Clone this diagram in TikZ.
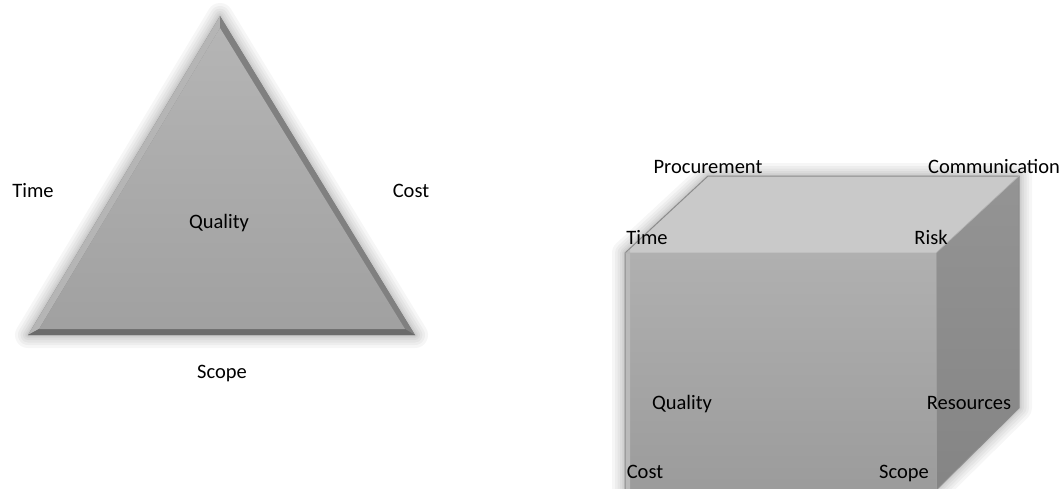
\documentclass[tikz,border=0pt]{standalone}
\usepackage{fontspec}
\setmainfont{Carlito}
\begin{document}
\begin{tikzpicture}[x=1pt,y=-1pt,
  lbl/.style={anchor=base,inner sep=0pt,font=\fontsize{20.5}{24}\selectfont,text=black},
  glow/.style={draw=black,line join=round,opacity=0.035}]
\useasboundingbox (0,0) rectangle (1062,488);
\fill[white] (0,0) rectangle (1062,488);
% ---------- triangle ----------
\coordinate (TA) at (220,16);
\coordinate (TB) at (28,335);
\coordinate (TC) at (415,335);
\coordinate (iA) at (220,28);
\coordinate (iB) at (39,329);
\coordinate (iC) at (405,329);
\foreach \w in {26,20,15,10,6,3}{
  \draw[glow,line width=\w pt] (TA) -- (TB) -- (TC) -- cycle;}
\fill[fill=black!52] (TA) -- (TB) -- (TC) -- cycle;
\fill[fill=black!29] (TA) -- (TB) -- (iB) -- (iA) -- cycle;
\fill[fill=black!50] (TA) -- (iA) -- (iC) -- (TC) -- cycle;
\fill[fill=black!58] (TB) -- (TC) -- (iC) -- (iB) -- cycle;
\shade[top color=black!29,bottom color=black!37] (iA) -- (iB) -- (iC) -- cycle;
\node[lbl] (tTime) at (33,197) {Time};
\node[lbl] (tCost) at (411,197) {Cost};
\node[lbl] (tQual) at (219,228) {Quality};
\node[lbl] (tScope) at (222,378) {Scope};
% ---------- cube ----------
\coordinate (F1) at (625,253);
\coordinate (F2) at (936,253);
\coordinate (F3) at (936,490);
\coordinate (F4) at (625,490);
\coordinate (B1) at (708,176);
\coordinate (B2) at (1019,176);
\coordinate (B3) at (1019,408);
\foreach \w in {26,20,15,10,6,3}{
  \draw[glow,line width=\w pt] (F4) -- (F1) -- (B1) -- (B2) -- (B3) -- (F3) -- cycle;}
\fill[black!21] (F1) -- (B1) -- (B2) -- (F2) -- cycle;
\shade[top color=black!31,bottom color=black!39] (F1) -- (F2) -- (F3) -- (F4) -- cycle;
\fill[black!27] (F1) -- (F4) -- ([xshift=5pt]F4) -- ([xshift=5pt,yshift=3pt]F1) -- cycle;
\shade[top color=black!42,bottom color=black!48] (F2) -- (B2) -- (B3) -- (F3) -- cycle;
\draw[black!45,line width=1pt,line join=round] (F4) -- (F1) -- (B1) -- (B2) -- (B3) -- (F3);
\draw[black!30,line width=0.6pt] (F1) -- (F2) -- (B2);
\draw[black!38,line width=0.6pt] (F2) -- (F3);
\node[lbl] (cProc) at (708,173) {Procurement};
\node[lbl] (cComm) at (994,173) {Communication};
\node[lbl] (cTime) at (647,244) {Time};
\node[lbl] (cRisk) at (931,244) {Risk};
\node[lbl] (cQual) at (682,409) {Quality};
\node[lbl] (cRes) at (969,409) {Resources};
\node[lbl] (cCost) at (645,478) {Cost};
\node[lbl] (cScope) at (904,478) {Scope};
\end{tikzpicture}
\end{document}
